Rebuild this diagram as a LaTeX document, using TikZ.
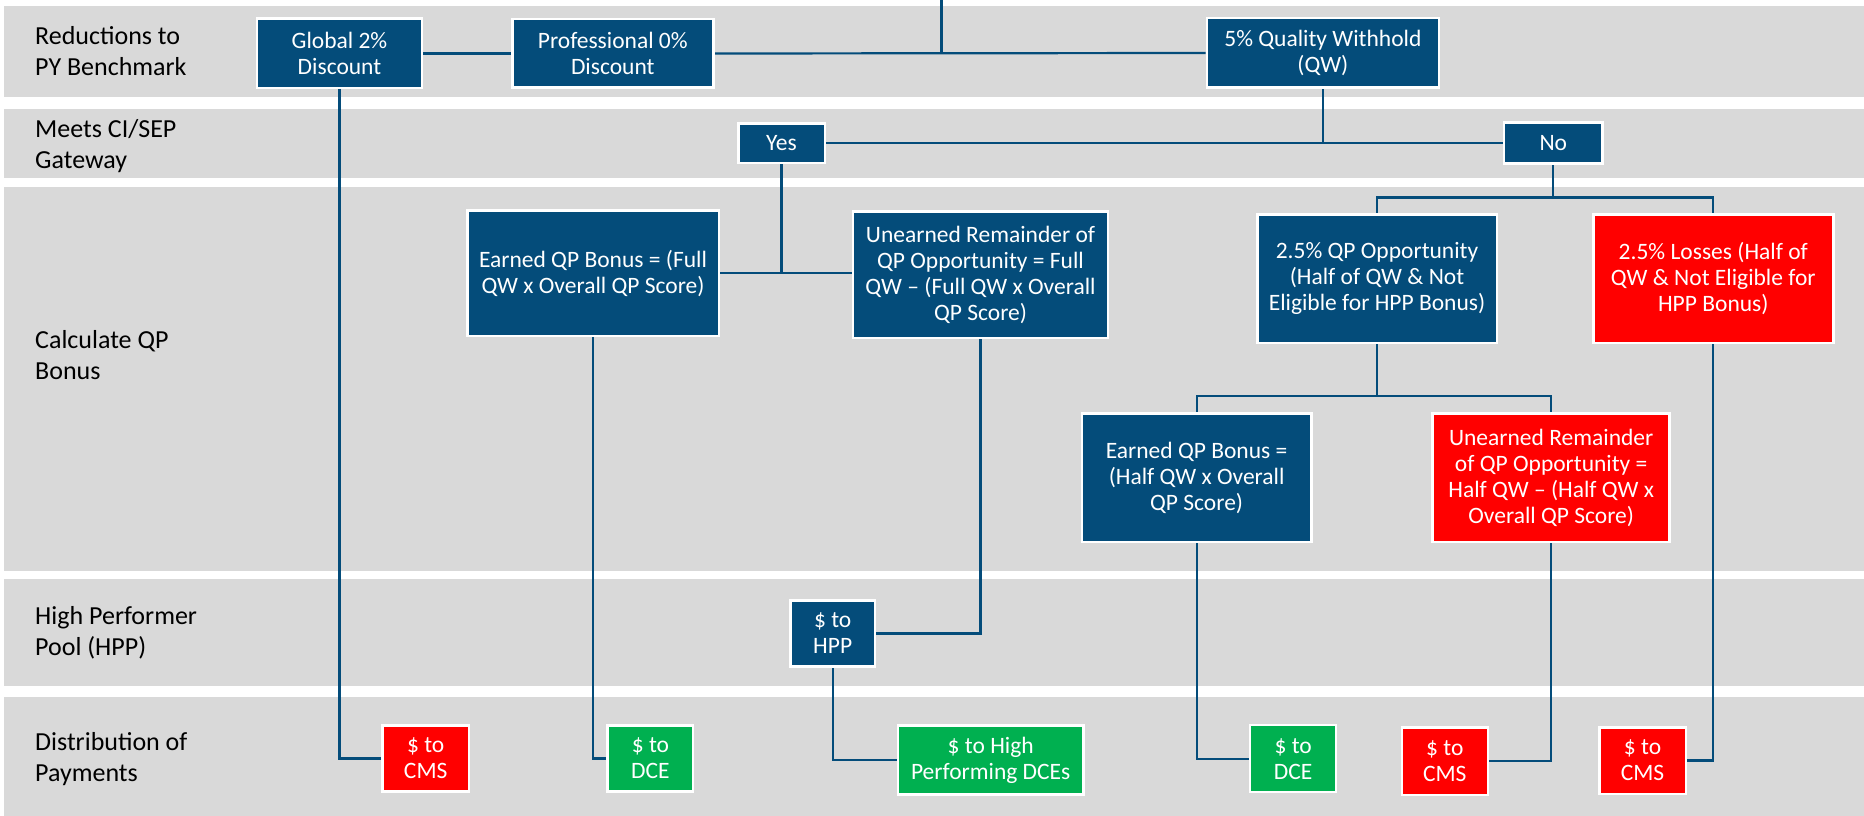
\documentclass[tikz,border=0pt]{standalone}
\usepackage{fontspec}
\setmainfont{Carlito}
\pgfdeclarelayer{bands}
\pgfdeclarelayer{wires}
\pgfsetlayers{bands,wires,main}
\definecolor{qblue}{RGB}{4,76,122}
\definecolor{qred}{RGB}{255,0,0}
\definecolor{qgreen}{RGB}{0,176,80}
\definecolor{qgray}{RGB}{217,217,217}
\newcommand\qboxfont{\fontsize{23.5}{26}\selectfont}
\newcommand\qlabfont{\fontsize{26}{31}\selectfont}
\tikzset{
 qbox/.style={draw=white, line width=2.5pt, inner sep=0pt, align=center, text=white, font=\qboxfont},
 bbox/.style={qbox, fill=qblue},
 rbox/.style={qbox, fill=qred},
 gbox/.style={qbox, fill=qgreen},
 conn/.style={draw=qblue, line width=2.2pt},
 lane/.style={fill=qgray},
 lanelabel/.style={anchor=west, align=left, inner sep=0pt, font=\qlabfont, text=black},
 sz/.style 2 args={minimum width=#1pt, minimum height=#2pt}
}
\begin{document}
\begin{tikzpicture}[x=1pt,y=-1pt]
\useasboundingbox (0,0) rectangle (1864,816);
\begin{pgfonlayer}{bands}
\fill[white] (0,0) rectangle (1864,816);
\fill[lane] (4,6) rectangle (1864,97);
\fill[lane] (4,109) rectangle (1864,178);
\fill[lane] (4,187) rectangle (1864,571);
\fill[lane] (4,579) rectangle (1864,686);
\fill[lane] (4,697) rectangle (1864,816);
\end{pgfonlayer}

% lane labels
\node[lanelabel] (l1) at (35,51.5) {Reductions to\\PY Benchmark};
\node[lanelabel] (l2) at (35,146.3) {Meets CI/SEP\\Gateway};
\node[lanelabel] (l3) at (35,355.5) {Calculate QP\\Bonus};
\node[lanelabel] (l4) at (35,632.6) {High Performer\\Pool (HPP)};
\node[lanelabel] (l5) at (35,759.3) {Distribution of\\Payments};

% boxes
\node[bbox, sz={165.2}{69.5}] (glob) at (339.5,53.5) {Global 2\%\\Discount};
\node[bbox, sz={201}{68.5}] (prof) at (612.8,53.5) {Professional 0\%\\Discount};
\node[bbox, sz={232.3}{69.5}] (qw) at (1322.9,53) {5\% Quality Withhold\\(QW)};
\node[bbox, sz={86.5}{39.5}] (yes) at (781.5,143) {Yes};
\node[bbox, sz={98.5}{41}] (no) at (1553.3,143) {No};
\node[bbox, sz={251.5}{125.5}] (ef) at (593,273.3) {Earned QP Bonus = (Full\\QW x Overall QP Score)};
\node[bbox, sz={255.3}{126.8}] (uf) at (980.5,274.7) {Unearned Remainder of\\QP Opportunity = Full\\QW – (Full QW x Overall\\QP Score)};
\node[bbox, sz={239.5}{128.2}] (qpo) at (1377,278.7) {2.5\% QP Opportunity\\(Half of QW \& Not\\Eligible for HPP Bonus)};
\node[rbox, sz={240}{128.2}] (loss) at (1713.3,278.7) {2.5\% Losses (Half of\\QW \& Not Eligible for\\HPP Bonus)};
\node[bbox, sz={229.5}{128.5}] (eh) at (1196.6,477.8) {Earned QP Bonus =\\(Half QW x Overall\\QP Score)};
\node[rbox, sz={237}{128.5}] (uh) at (1551.2,477.8) {Unearned Remainder\\of QP Opportunity =\\Half QW – (Half QW x\\Overall QP Score)};
\node[bbox, sz={84.8}{66}] (hpp) at (832.7,633.5) {\$ to\\HPP};
\node[rbox, sz={86.8}{66}] (cms1) at (425.7,758.5) {\$ to\\CMS};
\node[gbox, sz={85.5}{66}] (dce1) at (650.4,758.4) {\$ to\\DCE};
\node[gbox, sz={185.8}{69}] (hdce) at (990.7,759.9) {\$ to High\\Performing DCEs};
\node[gbox, sz={86}{67}] (dce2) at (1293.2,758.7) {\$ to\\DCE};
\node[rbox, sz={86}{67.5}] (cms2) at (1444.8,761) {\$ to\\CMS};
\node[rbox, sz={86.5}{66.5}] (cms3) at (1642.5,760.5) {\$ to\\CMS};

% connectors
\coordinate (top) at (941.5,0);
\coordinate (nb) at (1553.3,197.5);
\coordinate (qb) at (1377,396);
\begin{pgfonlayer}{wires}
\draw[conn] (glob.east) -- (prof.west);
\draw[conn] (prof.east) -- (qw.west);
\draw[conn] (top) -- (top |- qw.west);
\draw[conn] (qw.south) -- (qw.south |- yes.east);
\draw[conn] (yes.east) -- (no.west);
\draw[conn] (yes.south) -- (yes.south |- ef.east);
\draw[conn] (ef.east) -- (uf.west |- ef.east);
\draw[conn] (no.south) -- (nb);
\draw[conn] (qpo.north) -- (qpo.north |- nb) -- (loss.north |- nb) -- (loss.north);
\draw[conn] (qpo.south) -- (qb);
\draw[conn] (eh.north) -- (eh.north |- qb) -- (uh.north |- qb) -- (uh.north);
\draw[conn] (glob.south) |- (cms1.west);
\draw[conn] (ef.south) |- (dce1.west);
\draw[conn] (uf.south) |- (hpp.east);
\draw[conn] (hpp.south) |- (hdce.west);
\draw[conn] (eh.south) |- (dce2.west);
\draw[conn] (uh.south) |- (cms2.east);
\draw[conn] (loss.south) |- (cms3.east);
\end{pgfonlayer}
\end{tikzpicture}
\end{document}
